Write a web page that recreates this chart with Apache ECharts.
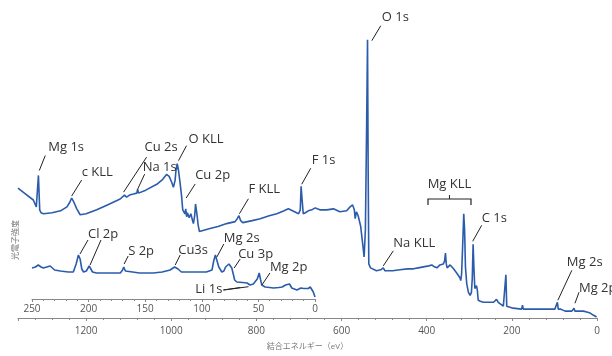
<!DOCTYPE html>
<html>
<head>
<meta charset="utf-8">
<script src="https://cdn.jsdelivr.net/npm/echarts@6/dist/echarts.min.js"></script>
<style>
html, body { margin: 0; padding: 0; background: #fff; }
#chart { width: 612px; height: 356px; }
</style>
</head>
<body>
<div id="chart"></div>
<script>
// ワイドスキャン (結合エネルギー eV / 強度)
var surveyEV = [1360, 1345, 1324, 1317, 1315, 1312, 1309, 1306, 1300, 1280, 1260, 1245, 1238, 1234, 1229, 1222, 1214,
  1200, 1175, 1150, 1120, 1110, 1105, 1098, 1089, 1081, 1079, 1077, 1060, 1034, 1020, 1011, 1005, 999, 995, 991, 989,
  986, 983, 980, 976, 973, 970, 968, 966, 964, 962, 960, 958, 956, 954, 952, 950, 948, 945, 943, 941, 939, 937, 934,
  930, 909, 890, 870, 850, 845, 841, 837, 832, 810, 791, 770, 752, 735, 725, 720, 717, 701, 697, 695, 693, 690, 685,
  678, 670, 662, 657, 651, 635, 619, 604, 588, 580, 574, 570, 568, 565, 561, 555, 549, 547, 544, 541, 539, 537.5, 536,
  532, 529, 518, 508, 502, 498, 494, 480, 463, 445, 431, 420, 408, 395, 388, 382, 376, 369, 361, 358, 356, 354, 352,
  348, 345, 341, 337, 330, 326, 322, 320, 318, 315, 313, 311, 309, 306, 302, 298, 295, 293, 291, 289, 287, 285, 283,
  281, 279, 274, 267, 255, 243, 236, 232, 228, 220, 216, 214, 212, 211, 197, 177, 175, 173, 150, 126, 99, 95, 93, 91,
  89, 85, 83, 80, 75, 59, 55, 54, 52, 50, 40, 32, 28, 24, 16, 12, 9, 5, 1];
var surveyCounts = [132, 127, 120, 113, 112, 145, 110, 107, 106, 107, 109, 113, 118, 122, 118, 111, 105,
  106, 110, 115, 121, 125, 123, 125, 126, 127, 131, 127, 130, 136, 141, 146, 144, 138, 133, 140, 150,
  157, 150, 140, 125, 110, 108, 106, 111, 103, 107, 108, 102, 100, 106, 105, 99, 96, 104, 116, 115, 103, 95, 88,
  88, 91, 93, 96, 98, 101, 104, 99, 97, 99, 101, 104, 106, 109, 111, 110, 108, 106, 110, 134, 122, 106, 107,
  109, 110, 112, 111, 110, 110, 111, 108, 109, 113, 115, 110, 101, 108, 104, 93, 70, 62, 90, 200, 283, 150, 55,
  51, 50, 48, 49, 51, 48, 47, 48, 49, 50, 50, 51, 52, 53, 54, 52, 51, 54, 55, 58, 66, 55, 51,
  53, 54, 52, 50, 46, 45, 41, 38, 45, 80, 106, 90, 52, 35, 26, 23, 26, 40, 75, 50, 30, 31, 33,
  28, 18, 17, 16, 16, 16, 19, 16, 15, 12, 12, 44, 12, 11, 10, 9, 13, 9, 9, 9, 9, 10, 16, 9,
  7, 9, 10, 8, 7, 7, 8, 10, 7, 6, 7, 7, 9, 6, 5, 6, 3, 2, 1];

// 拡大 250–0 eV
var insetEV = [250, 247, 244.5, 242, 240, 237, 234, 232, 230, 225, 218, 213.5, 211, 209, 207.5, 206, 204.5, 202,
  199.5, 198, 196.5, 193, 185, 178, 172, 170, 169, 167.5, 166, 155, 143, 135, 128, 124, 121, 118, 107, 96, 91,
  89.5, 88, 86.5, 85, 82.3, 80.5, 79, 76, 74.5, 73.5, 72, 71, 69, 64, 60, 57.4, 54.5, 52.8, 51, 49.3, 48, 47, 44,
  40, 36.7, 32, 29, 26, 24.3, 22.5, 20.5, 19, 16, 14.5, 12.5, 11.5, 10, 8.6, 6, 4.2, 2.7, 1.5, 0];
var insetCounts = [31, 32, 34, 32, 31, 32, 33, 31, 29, 28, 27, 27, 35, 44, 40, 30, 27, 28,
  33, 30, 27, 26, 26, 26, 26, 29, 32, 28, 26, 26, 26, 27, 29, 32, 30, 27, 27, 27, 29,
  38, 44, 38, 32, 27, 28, 32, 35, 34, 31, 24, 19, 17, 16.5, 16, 14, 15, 16, 20, 26, 19, 14, 12,
  11.5, 11, 11.5, 12, 14, 16, 15, 11, 9, 9, 9, 11, 12, 10.5, 9, 10.5, 12, 11, 7, 2];

// ピーク帰属
var surveyPeakNames = ['Mg 1s', 'c KLL', 'Cu 2s', 'Na 1s', 'O KLL', 'Cu 2p', 'F KLL', 'F 1s', 'O 1s', 'Na KLL', 'C 1s', 'Mg 2s', 'Mg 2p'];
var surveyPeakEV = [1310, 1234, 1112, 1079, 983, 965, 840, 693.6, 529, 502, 292, 92, 51.7];
var surveyPeakCounts = [150, 124, 128, 131, 160, 122, 106, 136, 282, 53, 78, 18, 15];
var insetPeakNames = ['Cl 2p', 'S 2p', 'Cu3s', 'Mg 2s', 'Cu 3p', 'Mg 2p'];
var insetPeakEV = [207.6, 168.6, 123.5, 86.7, 71.4, 46.9];
var insetPeakCounts = [45, 35, 34, 42, 31, 14];
var clSecondEV = 198.7, clSecondCount = 34;
var li1sEV = [65.9, 58.7], li1sCounts = [11.5, 12.3];
var mgKllRange = [397, 296], mgKllLevel = 121;

var mainTicks = [0, 1360, 200];
var insetTicks = [0, 250, 50];

// 引き出し線のずれ [dx, dy, tx, ty]
var surveyLayout = [[6, -15, 3, -8], [10, -16, 0, -8], [23, -35, -2, -10], [7, -15, -2, -7], [8, -15, 2, -6],
  [9, -14, 0, -9], [9, -15, 0, -9], [9, -16, 1, -8], [9, -15, 1, -8], [10, -15, 0, -8], [9, -16, 0, -7],
  [14, -30, -5, -8], [4, -11, 0, -4]];
var insetLayout = [[8, -14, 0, -6], [4, -8, 0, -5], [5, -10, -2, -5], [7, -13, 0, -6], [6, -9, -2, -5], [8, -12, 0, -6]];

var FONT = '"Open Sans", "Noto Sans CJK JP", sans-serif';
var lineColor = '#2b5cab';

function zip(a, b) {
  return a.map(function (v, i) { return [v, b[i]]; });
}

var chart = echarts.init(document.getElementById('chart'));
var option = {
  backgroundColor: '#fff',
  animation: false,
  grid: [
    { left: 18, right: 15, top: 23, bottom: 33 },
    { left: 32, right: 297, top: 199, bottom: 57 }
  ],
  xAxis: [
    {
      gridIndex: 0, type: 'value', inverse: true,
      min: mainTicks[0], max: mainTicks[1], interval: mainTicks[2],
      name: '結合エネルギー（eV）', nameLocation: 'middle', nameGap: 25,
      nameTextStyle: { color: '#777', fontSize: 8, fontFamily: FONT },
      axisLine: { lineStyle: { color: '#888', width: 1 } },
      axisTick: { show: true, length: 3, lineStyle: { color: '#888' } },
      minorTick: { show: true, splitNumber: 5, length: 2, lineStyle: { color: '#888' } },
      axisLabel: { color: '#555', fontSize: 10, fontFamily: FONT, margin: 8, showMaxLabel: false,
        formatter: function (v) { return String(v); } },
      splitLine: { show: false }
    },
    {
      gridIndex: 1, type: 'value', inverse: true,
      min: insetTicks[0], max: insetTicks[1], interval: insetTicks[2],
      axisLine: { lineStyle: { color: '#888', width: 1 } },
      axisTick: { show: true, length: 3, lineStyle: { color: '#888' } },
      minorTick: { show: true, splitNumber: 5, length: 2, lineStyle: { color: '#888' } },
      axisLabel: { color: '#555', fontSize: 10, fontFamily: FONT, margin: 5,
        formatter: function (v) { return String(v); } },
      splitLine: { show: false }
    }
  ],
  yAxis: [
    { gridIndex: 0, type: 'value', min: 0, max: 300, show: false },
    { gridIndex: 1, type: 'value', min: 0, max: 100, show: false }
  ],
  series: [
    {
      type: 'line', xAxisIndex: 0, yAxisIndex: 0, data: zip(surveyEV, surveyCounts),
      showSymbol: false, lineStyle: { color: lineColor, width: 1.6 }, clip: false
    },
    {
      type: 'line', xAxisIndex: 1, yAxisIndex: 1, data: zip(insetEV, insetCounts),
      showSymbol: false, lineStyle: { color: lineColor, width: 1.6 }, clip: false
    }
  ]
};
chart.setOption(option);

function px(g, ev, v) {
  return chart.convertToPixel({ xAxisIndex: g, yAxisIndex: g }, [ev, v]);
}
function seg(x1, y1, x2, y2) {
  return { type: 'line', silent: true, z: 10,
    shape: { x1: x1, y1: y1, x2: x2, y2: y2 },
    style: { stroke: '#222', lineWidth: 1 } };
}
function label(x, y, t, align) {
  return { type: 'text', silent: true, z: 10, x: x, y: y,
    style: { text: t, fill: '#333', font: '13px ' + FONT, textAlign: align || 'left', textVerticalAlign: 'middle' } };
}

var g = [];
function addPeaks(gi, names, evs, vals, layout) {
  names.forEach(function (n, i) {
    var p = px(gi, evs[i], vals[i]);
    var L = layout[i];
    var ex = p[0] + L[0], ey = p[1] + L[1];
    g.push(seg(p[0], p[1], ex, ey));
    g.push(label(ex + L[2], ey + L[3], n));
  });
}
addPeaks(0, surveyPeakNames, surveyPeakEV, surveyPeakCounts, surveyLayout);
addPeaks(1, insetPeakNames, insetPeakEV, insetPeakCounts, insetLayout);

// Cl 2p の二本目
var cl1 = px(1, insetPeakEV[0], insetPeakCounts[0]);
var cl2 = px(1, clSecondEV, clSecondCount);
g.push(seg(cl2[0], cl2[1], cl1[0] + insetLayout[0][0] + 13, cl1[1] + insetLayout[0][1]));

// Li 1s
var li0 = px(1, li1sEV[0], li1sCounts[0]);
var liX = li0[0] - 17, liY = li0[1] + 2.5;
li1sEV.forEach(function (e, i) {
  var p = px(1, e, li1sCounts[i]);
  g.push(seg(liX, liY, p[0], p[1]));
});
g.push(label(liX - 1, liY - 1, 'Li 1s', 'right'));

// Mg KLL 括弧
var b1 = px(0, mgKllRange[0], mgKllLevel);
var b2 = px(0, mgKllRange[1], mgKllLevel);
var bm = (b1[0] + b2[0]) / 2;
g.push({ type: 'polyline', silent: true, z: 10,
  shape: { points: [[b1[0], b1[1] + 6], [b1[0], b1[1]], [b2[0], b2[1]], [b2[0], b2[1] + 6]] },
  style: { stroke: '#222', lineWidth: 1.2, fill: null } });
g.push(seg(bm, b1[1], bm, b1[1] - 4));
g.push(label(bm, b1[1] - 15, 'Mg KLL', 'center'));

// 縦軸名
g.push({ type: 'text', silent: true, x: 16, y: 240, rotation: Math.PI / 2,
  style: { text: '光電子強度', fill: '#777', font: '8px ' + FONT, textAlign: 'center', textVerticalAlign: 'middle' } });

chart.setOption({ graphic: g });
</script>
</body>
</html>
